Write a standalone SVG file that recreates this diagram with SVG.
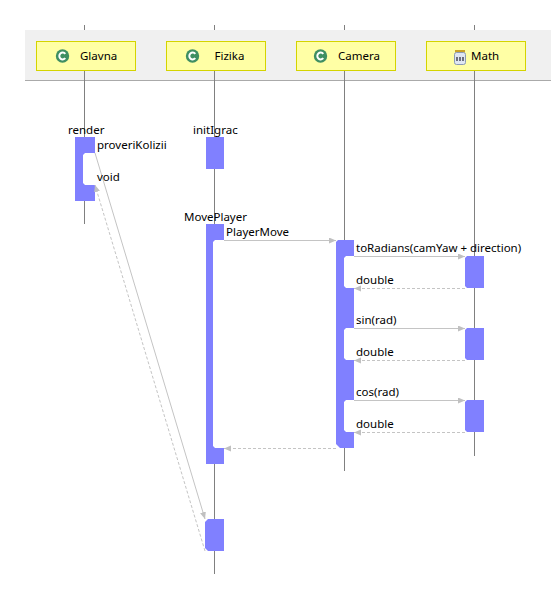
<svg xmlns="http://www.w3.org/2000/svg" width="551" height="599" viewBox="0 0 551 599">
<style>
text{font-family:"Noto Sans","Open Sans","DejaVu Sans",sans-serif;font-size:11.500px;fill:#000}
.box{fill:#ffffa5;stroke:#d4d400;stroke-width:1}
.life{stroke:#808080;stroke-width:1;fill:none}
.act{fill:#8080ff;stroke:none}
.gap{fill:#fff;stroke:none}
.msg{stroke:#c4c4c4;stroke-width:1;fill:none;marker-end:url(#arr)}
.ret{stroke-dasharray:3 2}
</style>
<defs>
<marker id="arr" markerUnits="userSpaceOnUse" markerWidth="8" markerHeight="8" refX="7" refY="3" orient="auto"><path d="M0 0L7 3L0 6Z" fill="#c0c0c0"/></marker>
<g id="cls"><circle cx="0" cy="0" r="6.700" fill="#3f8f62"/><path d="M2.800 -2.200A3.400 3.400 0 1 0 2.800 2.200" fill="none" stroke="#fff" stroke-width="2"/></g>
</defs>
<rect x="25" y="30" width="526" height="50" fill="#f0f0f0"/>
<rect x="25" y="80" width="526" height="1" fill="#aaaaaa"/>
<g id="lifelines">
<path class="life" d="M84.500 25V30M84.500 70V224"/>
<path class="life" d="M214.500 25V30M214.500 70V574"/>
<path class="life" d="M344.500 25V30M344.500 70V471"/>
<path class="life" d="M474.500 25V30M474.500 70V456"/>
</g>
<g id="Glavna"><rect class="box" x="36.500" y="41.500" width="99" height="29"/><use href="#cls" x="62.500" y="56"/><text x="80" y="60">Glavna</text></g>
<g id="Fizika"><rect class="box" x="166.500" y="41.500" width="99" height="29"/><use href="#cls" x="192.500" y="56"/><text x="214.500" y="60">Fizika</text></g>
<g id="Camera"><rect class="box" x="296.500" y="41.500" width="99" height="29"/><use href="#cls" x="320.500" y="56"/><text x="338" y="60">Camera</text></g>
<g id="Math"><rect class="box" x="426.500" y="41.500" width="99" height="29"/>
<rect x="455" y="50" width="10" height="2.500" fill="#c9a227"/><rect x="454.500" y="52.500" width="11" height="12" rx="2" fill="#dfe6f2" stroke="#8a9ab5"/><path d="M457 57V61M460 57V61M463 57V61" stroke="#223" stroke-width="1.200"/>
<text x="471" y="60">Math</text></g>
<g id="activations">
<path class="gap" d="M83 153H95V185H83ZM213 240H224V448H213ZM344 256H354V288H344ZM344 328H354V360H344ZM344 400H354V432H344Z"/>
<path class="act" d="M75 137H95V153H85L83 155V183L85 185H95V201H75Z"/>
<rect class="act" x="206" y="137" width="18" height="32"/>
<path class="act" d="M206 224H224V240H215L213 242V446L215 448H224V464H206Z"/>
<path class="act" d="M338 240H354V256H346L344 258V286L346 288H354V328H346L344 330V358L346 360H354V400H346L344 402V430L346 432H354V448H340L336 444V242Z"/>
<path class="act" d="M467 256H484V288H467L465 286V258Z"/>
<path class="act" d="M467 328H484V360H467L465 358V330Z"/>
<path class="act" d="M467 400H484V432H467L465 430V402Z"/>
<path class="act" d="M208 519H224V551H208L205 548V522Z"/>
</g>
<g id="connectors">
<path class="msg" d="M95 153L205 519"/>
<path class="msg ret" d="M205 551L95 185"/>
<path class="msg" d="M224 240.500H336"/>
<path class="msg" d="M354 256.500H465"/>
<path class="msg ret" d="M465 288.500H354"/>
<path class="msg" d="M354 328.500H465"/>
<path class="msg ret" d="M465 360.500H354"/>
<path class="msg" d="M354 400.500H465"/>
<path class="msg ret" d="M465 432.500H354"/>
<path class="msg ret" d="M336 448.500H224"/>
</g>
<g id="labels">
<text x="68" y="134">render</text>
<text x="97" y="149">proveriKolizii</text>
<text x="97" y="181">void</text>
<text x="193" y="134">initIgrac</text>
<text x="184" y="221">MovePlayer</text>
<text x="226" y="236">PlayerMove</text>
<text x="356" y="252">toRadians(camYaw + direction)</text>
<text x="356" y="284">double</text>
<text x="356" y="324">sin(rad)</text>
<text x="356" y="356">double</text>
<text x="356" y="396">cos(rad)</text>
<text x="356" y="428">double</text>
</g>
</svg>
